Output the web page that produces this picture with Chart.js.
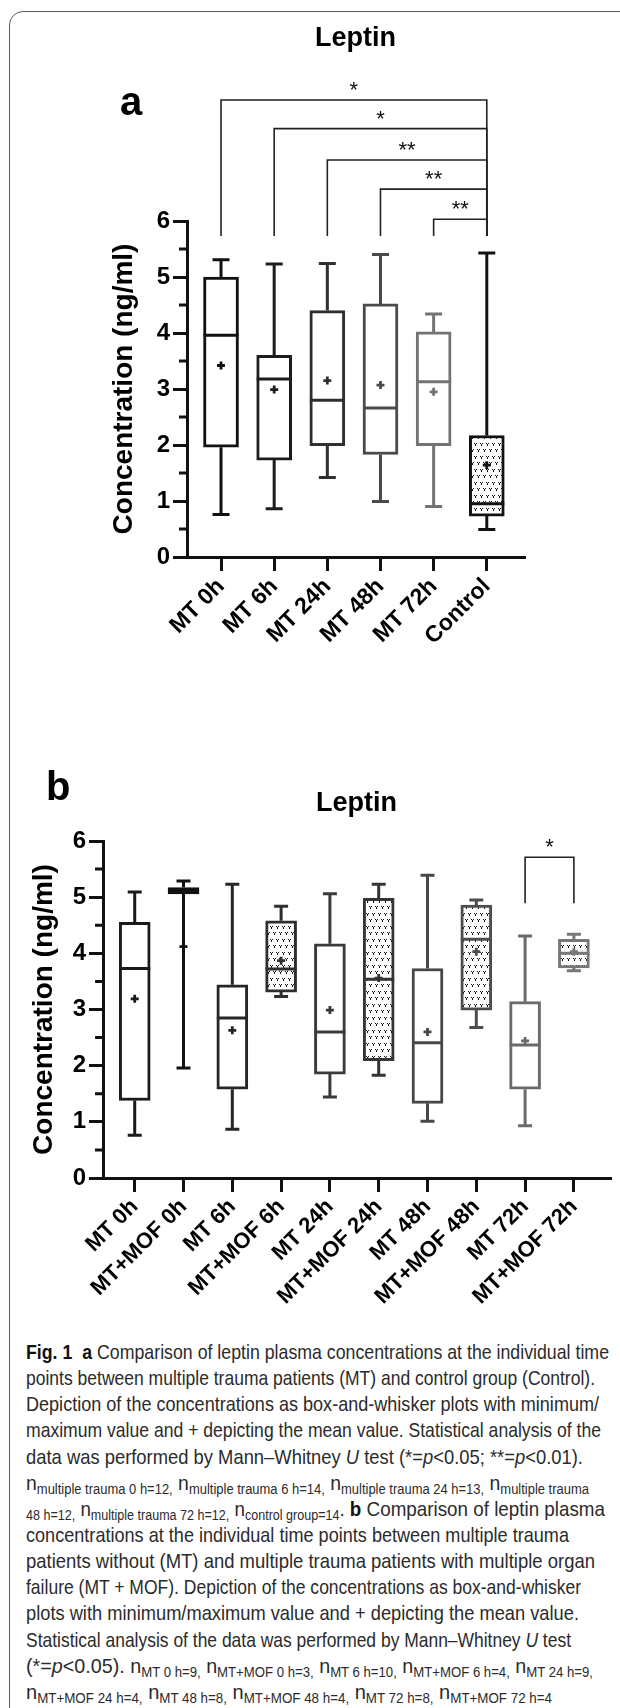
<!DOCTYPE html>
<html>
<head>
<meta charset="utf-8">
<script src="https://cdn.jsdelivr.net/npm/chart.js@4.4.0/dist/chart.umd.min.js"></script>
<style>
html, body { margin: 0; padding: 0; background: #fff; }
body { width: 620px; height: 1708px; position: relative; overflow: hidden; font-family: "Liberation Sans", Arial, sans-serif; }
#frame { position: absolute; left: 9px; top: 11px; width: 700px; height: 1800px; border: 1.5px solid #5a5a5a; border-radius: 14px; }
#cA { position: absolute; left: 0; top: 0; }
#cB { position: absolute; left: 0; top: 730px; }
#caption { position: absolute; left: 26px; top: 1339px; color: #2b2b2b; font-family: "Liberation Sans Narrow", "Liberation Sans", Arial, sans-serif; font-size: 21px; line-height: 26.15px; white-space: nowrap; }
#caption div { height: 26.15px; width: max-content; transform-origin: 0 50%; }
#caption b { color: #111; }
#caption sub { font-size: 14px; vertical-align: -4px; line-height: 0; }
</style>
</head>
<body>
<div id="frame"></div>
<canvas id="cA" width="620" height="720"></canvas>
<canvas id="cB" width="620" height="600"></canvas>
<div id="caption">
  <div><b>Fig. 1</b>&nbsp; <b>a</b> Comparison of leptin plasma concentrations at the individual time</div>
  <div>points between multiple trauma patients (MT) and control group (Control).</div>
  <div>Depiction of the concentrations as box-and-whisker plots with minimum/</div>
  <div>maximum value and + depicting the mean value. Statistical analysis of the</div>
  <div>data was performed by Mann–Whitney <i>U</i> test (*=<i>p</i>&lt;0.05; **=<i>p</i>&lt;0.01).</div>
  <div>n<sub>multiple trauma 0 h=12,</sub> n<sub>multiple trauma 6 h=14,</sub> n<sub>multiple trauma 24 h=13,</sub> n<sub>multiple trauma</sub></div>
  <div><sub>48 h=12,</sub> n<sub>multiple trauma 72 h=12,</sub> n<sub>control group=14</sub>. <b>b</b> Comparison of leptin plasma</div>
  <div>concentrations at the individual time points between multiple trauma</div>
  <div>patients without (MT) and multiple trauma patients with multiple organ</div>
  <div>failure (MT + MOF). Depiction of the concentrations as box-and-whisker</div>
  <div>plots with minimum/maximum value and + depicting the mean value.</div>
  <div>Statistical analysis of the data was performed by Mann–Whitney <i>U</i> test</div>
  <div>(*=<i>p</i>&lt;0.05). n<sub>MT 0 h=9,</sub> n<sub>MT+MOF 0 h=3,</sub> n<sub>MT 6 h=10,</sub> n<sub>MT+MOF 6 h=4,</sub> n<sub>MT 24 h=9,</sub></div>
  <div>n<sub>MT+MOF 24 h=4,</sub> n<sub>MT 48 h=8,</sub> n<sub>MT+MOF 48 h=4,</sub> n<sub>MT 72 h=8,</sub> n<sub>MT+MOF 72 h=4</sub></div>
</div>
<script>
const FONT = '"Liberation Sans", Arial, Helvetica, sans-serif';

// panel a: MT vs control
const catA = ['MT 0h', 'MT 6h', 'MT 24h', 'MT 48h', 'MT 72h', 'Control'];
const minA = [0.76, 0.86, 1.42, 0.99, 0.90, 0.49];
const q1A = [1.96, 1.73, 1.99, 1.83, 1.99, 0.73];
const medA = [3.96, 3.18, 2.80, 2.66, 3.13, 0.95];
const q3A = [5.00, 3.60, 4.40, 4.52, 4.02, 2.17];
const maxA = [5.31, 5.23, 5.24, 5.40, 4.34, 5.43];
const meanA = [3.42, 2.99, 3.15, 3.07, 2.95, 1.64];
const colorA = ['#111', '#1c1c1c', '#2f2f2f', '#4a4a4a', '#737373', '#111'];
const patternA = [false, false, false, false, false, true];
// significance brackets panel a
const sigFromA = [0, 1, 2, 3, 4];
const sigToA = [5, 5, 5, 5, 5];
const sigLevelA = [8.16, 7.65, 7.09, 6.57, 6.03];
const sigTextA = ['*', '*', '**', '**', '**'];

// panel b: MT vs MT+MOF
const catB = ['MT 0h', 'MT+MOF 0h', 'MT 6h', 'MT+MOF 6h', 'MT 24h', 'MT+MOF 24h', 'MT 48h', 'MT+MOF 48h', 'MT 72h', 'MT+MOF 72h'];
const minB = [0.76, 1.96, 0.87, 3.23, 1.44, 1.83, 1.01, 2.68, 0.93, 3.69];
const q1B = [1.38, 5.06, 1.58, 3.31, 1.85, 2.09, 1.33, 2.99, 1.58, 3.74];
const medB = [3.73, 5.12, 2.85, 3.72, 2.60, 3.54, 2.41, 4.25, 2.37, 4.00];
const q3B = [4.55, 5.17, 3.44, 4.58, 4.17, 4.98, 3.73, 4.86, 3.14, 4.25];
const maxB = [5.09, 5.29, 5.23, 4.84, 5.06, 5.23, 5.39, 4.95, 4.31, 4.34];
const meanB = [3.19, 4.12, 2.63, 3.87, 2.99, 3.56, 2.60, 4.03, 2.44, 4.03];
const colorB = ['#1a1a1a', '#111', '#262626', '#2e2e2e', '#3a3a3a', '#353535', '#474747', '#4d4d4d', '#6a6a6a', '#777'];
const patternB = [false, true, false, true, false, true, false, true, false, true];
const sigFromB = [8];
const sigToB = [9];
const sigLevelB = [5.71];
const sigTextB = ['*'];

// dotted fill like the original (small "v" marks)
function dotPattern(ctx) {
    const tile = document.createElement('canvas');
    tile.width = 6; tile.height = 13;
    const g = tile.getContext('2d');
    g.fillStyle = '#fff';
    g.fillRect(0, 0, 6, 13);
    g.fillStyle = '#111';
    [[0, 1], [3, 7]].forEach(([px, py]) => {
        g.fillRect(px, py, 1, 1);
        g.fillRect(px + 2, py, 1, 1);
        g.fillRect(px + 1, py + 1, 1, 2);
    });
    return ctx.createPattern(tile, 'repeat');
}

// whiskers, medians, means, minor ticks, brackets
function makeExtras(s) {
    return {
        id: 'extras',
        afterDatasetsDraw(chart) {
            const { ctx, scales: { x, y } } = chart;
            ctx.save();
            ctx.lineCap = 'butt';
            s.cats.forEach((c, i) => {
                const cx = x.getPixelForValue(i);
                const yMin = y.getPixelForValue(s.min[i]);
                const yQ1 = y.getPixelForValue(s.q1[i]);
                const yMed = y.getPixelForValue(s.med[i]);
                const yQ3 = y.getPixelForValue(s.q3[i]);
                const yMax = y.getPixelForValue(s.max[i]);
                const yMean = y.getPixelForValue(s.mean[i]);
                ctx.strokeStyle = s.colors[i];
                ctx.lineWidth = 3;
                ctx.beginPath();
                ctx.moveTo(cx, yQ3); ctx.lineTo(cx, yMax);
                ctx.moveTo(cx, yQ1); ctx.lineTo(cx, yMin);
                ctx.moveTo(cx - s.capW / 2, yMax); ctx.lineTo(cx + s.capW / 2, yMax);
                ctx.moveTo(cx - s.capW / 2, yMin); ctx.lineTo(cx + s.capW / 2, yMin);
                ctx.moveTo(cx - s.boxW / 2, yMed); ctx.lineTo(cx + s.boxW / 2, yMed);
                ctx.stroke();
                // mean as small +
                ctx.lineWidth = 2.8;
                ctx.beginPath();
                ctx.moveTo(cx - 4, yMean); ctx.lineTo(cx + 4, yMean);
                ctx.moveTo(cx, yMean - 4); ctx.lineTo(cx, yMean + 4);
                ctx.stroke();
            });
            ctx.restore();
        },
        afterDraw(chart) {
            const { ctx, chartArea, scales: { x, y } } = chart;
            ctx.save();
            // minor ticks on the y axis
            ctx.strokeStyle = '#111';
            ctx.lineWidth = 3;
            ctx.beginPath();
            for (let v = 0.5; v < 6; v += 1) {
                const py = y.getPixelForValue(v);
                ctx.moveTo(chartArea.left, py);
                ctx.lineTo(chartArea.left - 8, py);
            }
            ctx.stroke();
            // brackets
            ctx.strokeStyle = '#222';
            ctx.lineWidth = 1.6;
            ctx.fillStyle = '#111';
            ctx.font = '22px ' + FONT;
            ctx.textAlign = 'center';
            ctx.textBaseline = 'alphabetic';
            const yb = y.getPixelForValue(s.legBottom);
            s.sigFrom.forEach((f, k) => {
                const x1 = x.getPixelForValue(f);
                const x2 = x.getPixelForValue(s.sigTo[k]);
                const yl = y.getPixelForValue(s.sigLevel[k]);
                ctx.beginPath();
                ctx.moveTo(x1, yb); ctx.lineTo(x1, yl); ctx.lineTo(x2, yl); ctx.lineTo(x2, yb);
                ctx.stroke();
                ctx.fillText(s.sigText[k], (x1 + x2) / 2, yl - 3);
            });
            // panel letter
            ctx.font = 'bold 40px ' + FONT;
            ctx.textAlign = 'left';
            ctx.fillStyle = '#000';
            ctx.fillText(s.letter, s.letterX, s.letterY);
            ctx.restore();
        }
    };
}

function buildChart(canvasId, s) {
    const ctx = document.getElementById(canvasId).getContext('2d');
    const fills = s.pattern.map(p => p ? dotPattern(ctx) : '#fff');
    return new Chart(ctx, {
        type: 'bar',
        data: {
            datasets: [{
                data: s.cats.map((c, i) => ({ x: i, y: [s.q1[i], s.q3[i]] })),
                backgroundColor: fills,
                borderColor: s.colors,
                borderWidth: 3,
                borderSkipped: false,
                barThickness: s.boxW
            }]
        },
        options: {
            responsive: false,
            animation: false,
            layout: { padding: { left: 0, top: 0, right: s.padRight, bottom: s.padBottom } },
            plugins: {
                legend: { display: false },
                tooltip: { enabled: false },
                title: {
                    display: true,
                    text: 'Leptin',
                    fullSize: false,
                    color: '#000',
                    font: { family: FONT, size: 27, weight: 'bold' },
                    padding: { top: s.titleTop, bottom: s.titleBottom }
                }
            },
            scales: {
                x: {
                    type: 'linear',
                    min: s.xMin,
                    max: s.xMax,
                    offset: false,
                    afterBuildTicks: sc => { sc.ticks = s.cats.map((c, i) => ({ value: i })); },
                    afterFit: sc => { sc.height = s.xAxisH; },
                    grid: { drawOnChartArea: false, offset: false, tickLength: 14, lineWidth: 3, tickWidth: 3, tickColor: '#111' },
                    border: { width: 3, color: '#111' },
                    ticks: {
                        autoSkip: false,
                        maxRotation: 45,
                        minRotation: 45,
                        padding: 2,
                        color: '#000',
                        font: { family: FONT, size: s.xFont, weight: 'bold' },
                        callback: v => s.cats[v]
                    }
                },
                y: {
                    min: 0,
                    max: 6,
                    afterFit: sc => { sc.width = s.yAxisW; },
                    grid: {
                        drawOnChartArea: false,
                        tickLength: 14,
                        lineWidth: 3,
                        tickWidth: 3,
                        tickColor: c => (c.tick && c.tick.value % 1 === 0) ? '#111' : 'rgba(0,0,0,0)'
                    },
                    border: { width: 3, color: '#111' },
                    ticks: {
                        stepSize: 0.5,
                        padding: 3,
                        color: '#000',
                        font: { family: FONT, size: 24, weight: 'bold' },
                        callback: v => (v % 1 === 0 ? v : '')
                    },
                    title: {
                        display: true,
                        text: 'Concentration (ng/ml)',
                        color: '#000',
                        font: { family: FONT, size: 28, weight: 'bold' },
                        padding: { top: s.yTitlePad, bottom: 0 }
                    }
                }
            }
        },
        plugins: [makeExtras(s)]
    });
}

buildChart('cA', {
    cats: catA, min: minA, q1: q1A, med: medA, q3: q3A, max: maxA, mean: meanA,
    colors: colorA, pattern: patternA,
    sigFrom: sigFromA, sigTo: sigToA, sigLevel: sigLevelA, sigText: sigTextA, legBottom: 5.73,
    boxW: 35, capW: 17, xFont: 23,
    xMin: -0.64, xMax: 5.70,
    yAxisW: 187, xAxisH: 130, padRight: 96, padBottom: 33,
    titleTop: 22.6, titleBottom: 166, yTitlePad: 107,
    letter: 'a', letterX: 120, letterY: 115
});

buildChart('cB', {
    cats: catB, min: minB, q1: q1B, med: medB, q3: q3B, max: maxB, mean: meanB,
    colors: colorB, pattern: patternB,
    sigFrom: sigFromB, sigTo: sigToB, sigLevel: sigLevelB, sigText: sigTextB, legBottom: 4.89,
    boxW: 31, capW: 14, xFont: 22,
    xMin: -0.65, xMax: 9.74,
    yAxisW: 103, xAxisH: 140, padRight: 10, padBottom: 12,
    titleTop: 57.5, titleBottom: 21.1, yTitlePad: 27,
    letter: 'b', letterX: 46, letterY: 70
});

// squeeze each caption line so it ends where the original line does
const lineEnds = [609, 595, 599, 601, 583, 589, 605, 569, 595, 581, 579, 571, 593, 552];
document.querySelectorAll('#caption div').forEach((ln, i) => {
    const w = ln.getBoundingClientRect().width;
    ln.style.transform = 'scaleX(' + ((lineEnds[i] - 26) / w).toFixed(4) + ')';
});
</script>
</body>
</html>
